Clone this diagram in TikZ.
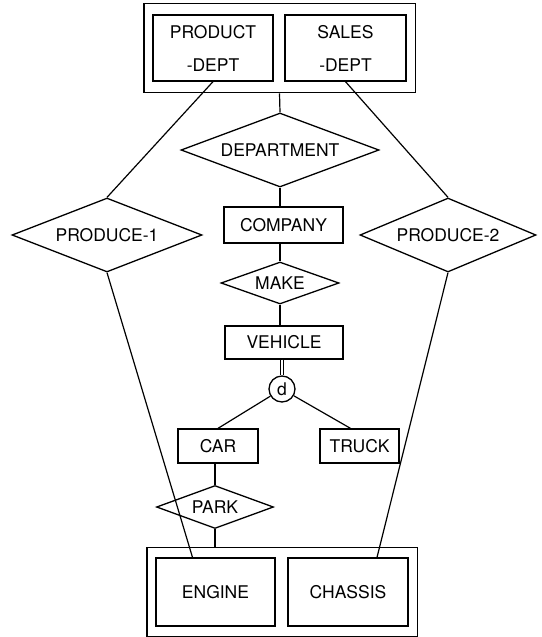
\documentclass[tikz,border=0pt]{standalone}
\usepackage{fontspec}
\setmainfont{TeX Gyre Heros}
\usepackage{tikz}
\usetikzlibrary{shapes.geometric, positioning, fit}

\tikzset{
    ent/.style={rectangle, draw, line width=1.3pt, inner sep=0pt},
    rel/.style={diamond, draw, line width=1.3pt, aspect=2.7, inner sep=0pt},
    agg/.style={rectangle, draw, line width=1.3pt, inner xsep=8.5pt},
    link/.style={line width=1.2pt},
}

\begin{document}
\begin{tikzpicture}[x=1pt, y=-1pt, font=\fontsize{17.5}{20}\selectfont]
    \useasboundingbox (0,0) rectangle (541,637);
    % 上の集約
    \node[ent, minimum width=120pt, minimum height=66pt, align=center] (pd) at (213,48) {PRODUCT\\[13pt]-DEPT};
    \node[ent, minimum width=121pt, minimum height=66pt, align=center] (sd) at (345.5,48) {SALES\\[13pt]-DEPT};
    \node[agg, inner ysep=11pt, fit=(pd)(sd)] (top) {};

    % 中央
    \node[rel, minimum width=198pt, minimum height=74pt] (dept) at (280,150) {DEPARTMENT};
    \node[ent, minimum width=119pt, minimum height=36pt] (comp) at (283.5,225) {COMPANY};
    \node[rel, minimum width=118pt, minimum height=42pt] (make) at (280,283) {MAKE};
    \node[ent, minimum width=118pt, minimum height=33pt] (veh) at (284,342.5) {VEHICLE};
    \node[circle, draw, line width=1.3pt, minimum size=26pt, inner sep=0pt] (d) at (282,389) {d};
    \node[ent, minimum width=80pt, minimum height=34pt] (car) at (218,446) {CAR};
    \node[ent, minimum width=79pt, minimum height=34pt] (truck) at (359.5,446) {TRUCK};
    \node[rel, minimum width=117pt, minimum height=43pt] (park) at (215,507) {PARK};

    % 左右
    \node[rel, minimum width=190pt, minimum height=74pt] (prod1) at (107,235) {PRODUCE-1};
    \node[rel, minimum width=176pt, minimum height=74pt] (prod2) at (448,235) {PRODUCE-2};

    % 下の集約
    \node[ent, minimum width=119pt, minimum height=68pt] (eng) at (215.5,592) {ENGINE};
    \node[ent, minimum width=120pt, minimum height=68pt] (chas) at (348,592) {CHASSIS};
    \node[agg, inner ysep=10pt, fit=(eng)(chas)] (bot) {};

    % 線
    \draw[link] (top.south) -- (dept.north);
    \draw[link] (pd.south) -- (prod1.north);
    \draw[link] (sd.south) -- (prod2.north);
    \draw[link] (dept.south) -- (dept.south |- comp.north);
    \draw[link] (comp.south -| make.north) -- (make.north);
    \draw[link] (make.south) -- (make.south |- veh.north);
    \draw[link, double, double distance=2.4pt] (veh.south -| d.north) -- (d.north);
    \draw[link] (d) -- (car.north);
    \draw[link] (d) -- ([xshift=-9pt]truck.north);
    \draw[link] (car.south -| park.north) -- (park.north);
    \draw[link] (park.south) -- (park.south |- bot.north);
    \draw[link] (prod1.south) -- ([xshift=-23pt]eng.north);
    \draw[link] (prod2.south) -- ([xshift=29pt]chas.north);
\end{tikzpicture}
\end{document}
